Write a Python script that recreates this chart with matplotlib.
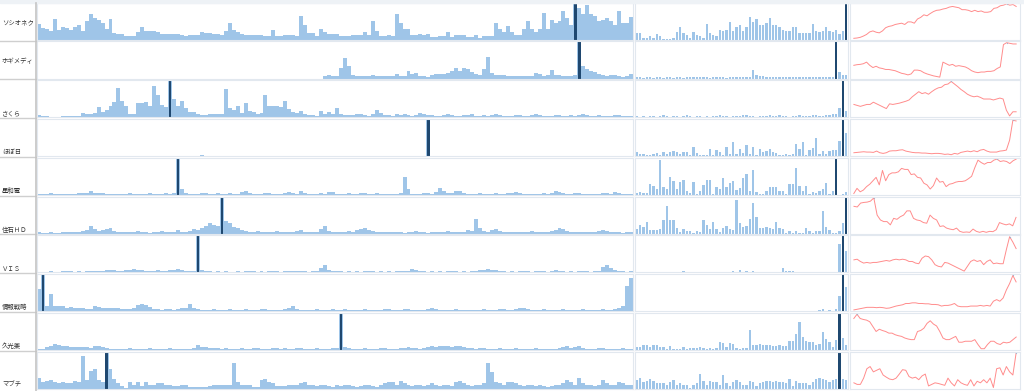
import numpy as np
import matplotlib
matplotlib.use('Agg')
import matplotlib.pyplot as plt
from matplotlib.lines import Line2D
from matplotlib.patches import Rectangle

plt.rcParams['font.family'] = ['Noto Sans CJK JP', 'DejaVu Sans']

names = ['ソシオネク', 'ホギメディ', 'さくら', 'ほぼ日', '星和電',
         '住石ＨＤ', 'ＶＩＳ', '情報戦略', '久光薬', 'マブチ']

# long history (left column), 150 bars each
socio_long = [43,32,28,25,58,27,36,32,27,36, 40,25,50,70,60,55,45,30,57,18,
              15,15,9,9,9,20,35,23,23,23, 20,16,16,16,16,16,12,9,14,14,
              14,22,18,18,15,15,14,25,45,27, 20,15,14,14,14,12,12,10,10,27,
              11,11,14,14,14,11,66,40,18,18, 9,30,21,15,15,15,9,9,9,
              12,12,12,20,12,50,25,10,10,12, 10,70,45,30,30,14,14,16,12,16,
              8,8,9,9,22,8,14,14,14,8, 8,12,6,10,10,10,45,30,20,38,
              22,12,12,30,52,28,22,30,72,28, 55,45,50,80,60,40,100,88,70,95,
              70,65,50,55,60,50,40,78,45,45, 62]
hogy_long = [0] * 72 + [6,10,8,8,30,55,35,
             10,8,6,8,8,10,8,8,6,6, 6,12,8,8,20,12,15,6,6,5,
             10,12,12,12,15,20,28,20,28,25, 18,12,10,25,60,15,10,10,10,8,
             8,8,6,6,6,6,15,12,8,10, 22,10,10,8,8,8,10,100,35,25,
             20,18,12,10,8,10,10,6,5,8, 12]
sakura_long = [5,3,4,2,2,2,3,3,3,3, 3,12,10,10,12,28,15,20,30,42,
               80,45,30,10,10,40,40,42,32,85, 60,35,28,100,50,30,45,25,15,14,
               8,6,5,8,8,8,8,78,25,20, 30,12,40,18,15,10,12,62,32,32,
               30,28,45,22,15,12,18,8,5,5, 3,18,8,15,8,25,8,5,
               6,5,8,10,5,4,8,20,12,6, 5,4,8,6,10,5,4,6,12,8,
               6,5,4,3,5,8,6,4,3,5, 6,8,4,3,5,4,6,10,5,4,
               3,4,5,6,4,3,5,8,6,4, 3,4,6,5,4,3,5,4,6,8,
               5,4,3,5,4,3,4,6,5,4, 3,4]
hobo_long = [0,0,0,0,0,0,0,0,0,0, 0,0,0,0,1,0,0,0,0,1,
             0,0,1,1,0,0,0,0,0,0, 0,0,0,1,0,0,0,0,0,0,
             0,4,1,0,0,0,0,0,0,0, 0,0,0,0,0,0,0,0,1,0,
             0,0,0,0,0,0,0,0,0,0, 0,0,0,0,0,0,0,1,0,0,
             0,0,0,0,0,0,0,0,0,0, 0,0,0,0,0,0,0,0,100,0,
             0,0,0,0,0,0,0,0,0,1, 0,0,0,0,0,0,0,0,0,0,
             0,0,0,0,1,0,0,0,0,0, 0,0,0,0,0,0,1,0,0,0,
             0,0,0,0,0,0,0,0,1,1]
seiwa_long = [3,2,2,4,2,2,3,3,2,3, 4,5,6,12,6,5,4,3,3,2,
              3,2,3,6,3,2,2,3,4,3, 2,3,5,3,4,100,15,5,3,2,
              3,6,4,3,2,5,3,2,4,3, 3,8,10,4,3,2,3,5,4,3,
              2,3,4,8,5,3,10,6,3,2, 3,4,3,8,7,3,2,3,4,2,
              3,5,6,3,2,4,3,2,3,2, 3,4,50,15,3,2,3,5,4,3,
              8,18,10,6,5,12,10,5,3,2, 3,4,3,2,3,5,3,2,4,6,
              8,5,3,2,3,2,3,4,3,5, 12,8,4,3,2,5,4,3,2,3,
              2,3,5,4,3,8,6,3,2,3]
sumiseki_long = [4,3,3,4,3,3,4,5,6,5, 6,8,10,20,12,8,10,12,15,8,
                 6,5,4,5,6,8,5,4,3,5, 6,8,5,4,6,10,6,5,8,12,
                 10,15,20,30,25,22,100,35,28,18, 15,10,8,6,5,8,6,4,5,6,
                 8,6,5,4,6,8,10,6,5,4, 6,12,20,8,6,5,4,6,8,5,
                 10,12,15,10,8,6,5,4,5,6, 4,5,3,4,6,8,5,4,3,5,
                 6,4,5,8,6,5,4,6,10,8, 40,15,8,6,10,12,8,6,5,4,
                 5,6,4,5,8,6,5,4,6,8, 10,15,12,8,6,5,4,6,5,4,
                 6,8,10,8,6,5,4,3,4,5]
vis_long = [2,2,2,3,2,2,3,5,3,2, 3,2,3,3,4,3,5,6,8,6,
            5,4,6,8,10,8,6,5,4,5, 6,5,4,6,8,10,6,4,3,5,
            100,8,4,3,2,3,2,3,2,2, 3,2,3,4,3,2,3,2,3,4,
            3,2,3,4,3,5,4,3,2,3, 5,12,20,8,3,4,3,2,3,2,
            3,2,3,4,3,2,3,2,3,2, 3,4,3,5,10,8,4,3,2,3,
            2,3,2,3,4,3,2,3,2,3, 4,6,8,10,6,8,4,3,2,3,
            2,3,4,3,2,3,4,3,2,3, 8,5,3,2,3,2,3,4,3,2,
            3,4,15,20,12,6,4,3,2,3]
joho_long = [60,100,15,47,15,14,14,10,12,8, 8,8,5,5,15,12,8,8,10,10,
             8,6,5,6,8,18,20,18,12,6, 5,4,5,6,4,5,8,10,20,8,
             5,4,3,4,5,3,4,3,5,4, 3,4,5,3,4,3,5,6,4,3,
             4,3,5,8,15,6,4,3,4,3, 5,4,3,4,6,4,3,5,4,3,
             4,3,5,4,3,4,3,5,6,4, 3,4,6,5,4,3,4,3,5,8,
             6,4,3,4,3,5,4,3,4,3, 4,3,5,4,3,4,6,5,4,3,
             5,8,10,6,4,3,4,5,3,4, 3,4,5,3,4,3,4,6,4,3,
             4,3,5,4,3,6,8,15,70,90]
hisamitsu_long = [3,3,8,12,18,15,12,10,8,8, 8,8,8,6,12,10,8,5,4,3,
                  4,3,4,5,3,4,3,4,5,4, 3,4,3,5,4,3,4,3,4,5,
                  15,8,8,6,5,5,4,5,4,3, 4,5,3,4,6,5,4,3,4,5,
                  6,4,5,3,4,5,6,4,3,4, 5,4,3,4,6,5,100,8,5,4,
                  3,4,5,4,3,4,5,6,4,3, 4,5,6,8,6,5,4,6,8,10,
                  8,10,12,10,8,12,10,8,6,5, 4,5,6,4,3,4,5,4,3,4,
                  5,4,3,4,3,5,4,3,4,3, 4,6,8,12,6,8,10,5,4,3,
                  4,6,5,4,3,4,3,5,4,3]
mabuchi_long = [30,20,22,25,20,15,20,15,15,22, 20,90,25,48,55,25,20,100,55,28,
                15,8,3,18,10,20,8,20,12,12, 15,15,10,10,8,8,10,10,5,5,
                5,5,6,8,10,10,10,10,10,70, 20,10,10,10,5,5,25,28,18,15,
                8,8,8,12,12,12,
                15,18,12,10,8,10,12,8,6,10, 8,12,10,8,6,8,10,12,8,6,
                10,15,20,18,12,22,15,10,8,12, 10,8,12,15,10,8,10,12,8,20,
                22,15,10,8,12,10,15,70,45,20, 15,12,18,20,15,10,8,12,10,8,
                10,8,6,8,12,10,15,25,20,12, 30,15,10,12,8,10,25,15,12,10,
                20,15,12,10]

# recent period (middle column), 64 bars each
socio_mid = [18,18,5,6,11,5,15,11,3,3, 3,5,21,36,18,14,6,20,14,11,
             5,43,18,14,9,27,25,27,48,25, 34,39,25,36,61,48,57,41,41,45,
             59,39,39,36,27,25,25,34,34,18, 18,18,18,43,25,21,25,36,25,21,
             27,15,25,100]
hogy_mid = [3,3,2,3,3,2,3,3,2,3, 3,2,3,3,2,3,4,5,5,4,
            3,3,2,3,4,3,3,2,3,3, 4,3,3,3,4,22,10,8,6,5,
            4,5,3,4,3,4,3,3,4,3, 3,4,3,3,4,3,3,4,3,4,
            100,18,10,10]
sakura_mid = [3,2,3,2,4,3,2,3,5,3, 2,3,4,2,3,5,3,2,3,4,
              2,3,2,4,3,5,4,3,2,3, 4,3,5,6,4,3,2,3,4,3,
              5,4,3,6,4,3,2,4,3,5, 4,3,4,6,5,3,4,5,6,8,
              10,25,100,18]
hobo_mid = [10,5,6,2,3,5,8,2,10,5, 12,15,10,5,10,12,3,25,8,3,
            3,2,20,3,18,12,3,25,5,38, 5,20,8,30,5,25,3,20,10,15,
            20,10,8,3,3,5,2,5,33,20, 38,3,18,22,50,5,13,5,13,18,
            18,42,100,63]
seiwa_mid = [5,8,5,5,30,25,15,95,22,15, 50,37,15,35,40,12,5,36,2,10,
             28,42,42,2,22,16,47,22,33,37, 14,19,46,58,12,67,8,3,3,12,
             22,22,22,10,10,2,30,30,73,25, 10,25,2,8,5,10,15,33,2,10,
             100,0,2,8]
sumiseki_mid = [12,25,18,32,10,10,10,13,38,77, 38,38,17,5,12,8,8,3,8,5,
                38,25,13,32,13,5,15,22,12,10, 93,30,18,20,40,85,45,15,16,18,
                15,12,33,15,12,2,8,3,8,2, 2,15,8,3,8,8,63,18,10,3,
                3,8,28,100]
vis_mid = [1,1,1,1,1,1,1,1,1,1, 1,1,1,1,5,1,1,1,1,1,
           1,1,1,1,1,1,1,1,2,3, 2,6,2,3,2,3,2,1,1,1,
           1,1,1,1,12,5,5,5,1,1, 1,1,1,2,1,1,1,1,1,1,
           1,77,100,60]
joho_mid = [1,1,1,1,1,1,1,1,1,1, 1,1,1,1,1,1,1,1,1,1,
            1,1,1,1,1,1,1,1,1,1, 1,1,1,1,1,1,1,1,1,1,
            1,1,1,1,1,1,1,1,2,1, 1,1,1,1,1,3,5,1,3,1,
            5,43,100,67]
hisamitsu_mid = [8,8,15,15,8,13,13,8,8,3, 10,3,3,3,8,2,5,5,5,8,
                 5,3,5,3,7,22,20,8,20,18, 5,3,7,5,55,13,15,18,15,15,
                 13,12,12,13,10,10,25,25,43,77, 35,25,22,22,15,17,50,30,22,8,
                 27,100,32,13]
mabuchi_mid = [25,30,20,22,28,22,15,15,15,10, 20,25,12,15,12,12,3,12,15,40,
               22,12,22,18,18,12,37,15,8,20, 25,18,12,12,22,20,8,15,20,22,
               22,20,22,20,20,15,28,8,22,15, 15,15,12,20,28,30,28,25,20,25,
               28,100,28,25]

# price line (right column)
socio_px = [0,1,3,7,12,20,23,19,17,23, 33,37,39,43,45,47,43,51,51,47,
            60,65,73,70,77,83,87,88,91,93, 97,99,97,95,89,89,87,83,87,83,
            85,81,81,83,93,95,101,103,107,103, 105,99]
hogy_px = [40,42,43,45,50,40,33,37,32,30, 27,27,25,23,19,15,13,10,13,25,
           25,23,17,13,10,7,5,3,50,45, 40,43,37,39,37,35,30,23,19,17,
           19,19,21,21,23,30,35,105,111,109, 107,107]
sakura_px = [40,37,34,37,40,40,47,42,37,32, 27,42,40,42,44,47,50,54,64,72,
             80,74,77,72,80,87,92,94,102,104, 112,104,96,87,80,72,67,64,66,62,
             57,57,57,54,57,60,57,22,4,17, 17]
hobo_px = [7,8,9,10,9,9,8,12,7,5, 7,12,13,13,15,16,12,10,8,7,
           7,6,6,5,4,5,5,4,2,3, 1,5,3,8,10,12,10,13,10,15,
           17,12,9,9,9,12,13,15,45,105, 103]
seiwa_px = [10,25,15,20,30,37,47,57,35,77, 47,65,70,70,73,83,80,80,65,67,
            57,55,40,35,23,33,55,43,45,30, 37,39,43,45,45,47,53,60,85,107,
            100,95,100,100,107,110,103,105,103,97, 105,110]
sumiseki_px = [82,80,92,94,95,98,108,55,40,35, 35,25,45,42,50,55,68,68,45,40,
               38,32,30,55,45,40,20,22,15,12, 10,15,5,2,3,2,12,5,2,5,
               2,5,4,10,32,28,25,28,22,48]
vis_px = [40,42,35,30,32,30,32,32,34,36, 38,36,40,42,40,42,40,35,35,30,
          28,45,52,50,40,25,20,18,32,30, 25,20,15,10,5,20,35,40,35,38,
          25,35,40,28,30,28,28,72,112,95, 75]
joho_px = [3,5,7,9,11,11,11,10,11,10, 8,9,12,15,17,19,23,23,25,25,
           23,23,22,22,20,20,19,15,17,17, 19,23,15,13,13,13,15,15,15,17,
           15,17,15,30,35,30,40,65,85,110, 90]
hisamitsu_px = [97,110,97,94,92,87,72,57,64,60, 57,52,52,47,44,42,37,34,32,32,
                57,60,67,82,90,80,74,57,37,32, 32,37,42,24,24,27,27,27,32,17,
                4,4,17,27,27,20,17,24,22,24, 32,40]
mabuchi_px = [20,15,15,35,65,72,55,60,65,45, 38,32,30,35,48,62,60,40,35,38,
              30,42,48,10,15,20,18,15,12,35, 20,10,30,20,15,12,30,10,25,20,
              30,20,35,5,65,68,45,72,55,45, 115]

hi_long = [135, 136, 33, 98, 35, 46, 40, 1, 76, 17]
hi_mid = [63, 60, 62, 62, 60, 63, 62, 62, 61, 61]

longs = [socio_long, hogy_long, sakura_long, hobo_long, seiwa_long,
         sumiseki_long, vis_long, joho_long, hisamitsu_long, mabuchi_long]
mids = [socio_mid, hogy_mid, sakura_mid, hobo_mid, seiwa_mid,
        sumiseki_mid, vis_mid, joho_mid, hisamitsu_mid, mabuchi_mid]
pxs = [socio_px, hogy_px, sakura_px, hobo_px, seiwa_px,
       sumiseki_px, vis_px, joho_px, hisamitsu_px, mabuchi_px]

light = '#9fc5e8'
dark = '#1f4870'
red = '#ff8c8c'
edge = '#e2e8ef'

W, H = 1024.0, 391.0
row_h = 38.8
top0 = 2.5

fig = plt.figure(figsize=(10.24, 3.91), dpi=100)
fig.patch.set_facecolor('white')


def box(x0, x1, r):
    y_top = top0 + r * row_h
    y_bot = y_top + row_h - 1.6
    return [x0 / W, 1 - y_bot / H, (x1 - x0) / W, (y_bot - y_top) / H]


def tidy(ax):
    ax.set_xticks([])
    ax.set_yticks([])
    for s in ax.spines.values():
        s.set_color(edge)
        s.set_linewidth(0.8)


# light band at the very top
fig.patches.append(Rectangle((0, 1 - top0 / H), 1, top0 / H, color='#eef2f6',
                             transform=fig.transFigure, zorder=0))

for r in range(10):
    lv = np.array(longs[r], dtype=float)
    mv = np.array(mids[r], dtype=float)
    pv = np.array(pxs[r], dtype=float)

    # left: long history
    ax = fig.add_axes(box(37, 633, r))
    x = np.arange(len(lv))
    ax.bar(x, lv, width=1.0, color=light, linewidth=0)
    h = hi_long[r]
    ax.bar([h], [lv[h]], width=0.6, color=dark, linewidth=0)
    ax.set_xlim(-0.5, len(lv) - 0.5)
    ax.set_ylim(0, lv.max() * 1.02)
    tidy(ax)

    # middle: recent period
    ax = fig.add_axes(box(635, 848, r))
    x = np.arange(len(mv))
    ax.bar(x, mv, width=0.7, color=light, linewidth=0)
    h = hi_mid[r]
    ax.bar([h], [mv[h]], width=0.7, color=dark, linewidth=0)
    ax.set_xlim(-0.6, len(mv) - 0.4)
    ax.set_ylim(0, mv.max() * 1.02)
    tidy(ax)

    # right: price line
    ax = fig.add_axes(box(850, 1020, r))
    x = np.arange(len(pv))
    ax.plot(x, pv, color=red, lw=0.7)
    k = int(np.argmax(pv))
    ax.plot([x[k]], [pv[k]], 'o', ms=0.9, mew=0, color='#9fb3d0')
    rng = pv.max() - pv.min()
    ax.set_xlim(-1.2, len(pv) + 0.2)
    ax.set_ylim(pv.min() - rng * 0.04, pv.max() + rng * 0.04)
    tidy(ax)

    # label column
    y_top = top0 + r * row_h
    if r < 2:
        ty = y_top + row_h / 2
    else:
        ty = y_top + row_h - 5.5
    fig.text(2 / W, 1 - ty / H, names[r], fontsize=4.6, color='#333333',
             ha='left', va='center')
    if r > 0:
        yy = 1 - (y_top - 0.8) / H
        fig.lines.append(Line2D([0, 36 / W], [yy, yy], color='#cfcfcf', lw=1.0,
                                transform=fig.transFigure))

fig.lines.append(Line2D([36 / W, 36 / W], [0, 1 - top0 / H], color='#c4c4c4', lw=1.2,
                        transform=fig.transFigure))

fig.savefig('out.png', dpi=100)
